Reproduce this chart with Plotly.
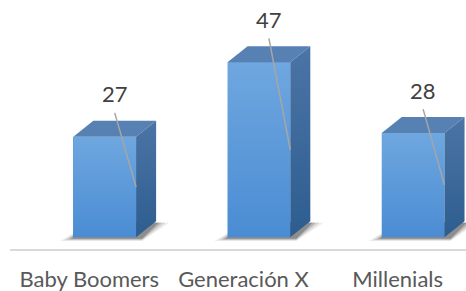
import plotly.graph_objects as go

categories = ["Baby Boomers", "Generación X", "Millenials"]
values = [27, 47, 28]

# style constants
BAR_W = 0.407        # front face width (x units)
DX = 0.13            # depth offset in x units
DY = 4.3             # depth offset in y units
LABEL_DX = 0.065
LABEL_DY = 11.5
LEADER_DY = 6.4
FONT = "Lato"

fig = go.Figure()

xs = list(range(len(categories)))

# front faces (base bars)
fig.add_trace(go.Bar(x=xs, y=values, width=BAR_W, marker=dict(color="#5b9bd5", line=dict(width=0)),
                     hoverinfo="skip", showlegend=False))

# soft shadows on the floor
for i, v in zip(xs, values):
    xl, xr = i - BAR_W / 2, i + BAR_W / 2
    for ex, op in [(0.085, 0.08), (0.06, 0.12), (0.035, 0.18), (0.015, 0.25)]:
        bot = -0.25 - ex * 9
        px = [xl - ex, xr + DX * 0.3, xr + DX + ex, xl + DX, xl - ex]
        py = [bot, bot, DY - 0.4, DY, bot]
        fig.add_trace(go.Scatter(x=px, y=py, fill="toself", mode="none",
                                 fillcolor=f"rgba(30,30,30,{op})",
                                 hoverinfo="skip", showlegend=False))

for i, v in zip(xs, values):
    xl, xr = i - BAR_W / 2, i + BAR_W / 2
    # front face with gradient
    fig.add_trace(go.Scatter(x=[xl, xr, xr, xl, xl], y=[0, 0, v, v, 0], fill="toself", mode="none",
                             fillgradient=dict(type="vertical", start=0, stop=v,
                                               colorscale=[[0, "#4a8cd3"], [1, "#6fa7df"]]),
                             hoverinfo="skip", showlegend=False))
    # top face
    fig.add_trace(go.Scatter(x=[xl, xr, xr + DX, xl + DX, xl], y=[v, v, v + DY, v + DY, v],
                             fill="toself", mode="none", fillcolor="#5781b3",
                             hoverinfo="skip", showlegend=False))
    # side face
    fig.add_trace(go.Scatter(x=[xr, xr + DX, xr + DX, xr, xr], y=[0, DY, v + DY, v, 0],
                             fill="toself", mode="none",
                             fillgradient=dict(type="vertical", start=0, stop=v + DY,
                                               colorscale=[[0, "#2d5d8f"], [1, "#4c74a6"]]),
                             hoverinfo="skip", showlegend=False))
    # leader line
    fig.add_trace(go.Scatter(x=[i + LABEL_DX, xr], y=[v + LEADER_DY, v / 2], mode="lines",
                             line=dict(color="#a6a6a6", width=1.5),
                             hoverinfo="skip", showlegend=False))
    fig.add_annotation(x=i + LABEL_DX, y=v + LABEL_DY, text=str(v), showarrow=False,
                       font=dict(family=FONT, size=22, color="#404040"),
                       xanchor="center", yanchor="middle")

fig.update_layout(
    width=466, height=291,
    margin=dict(l=10, r=0, t=0, b=42),
    plot_bgcolor="white", paper_bgcolor="white",
    bargap=0,
    xaxis=dict(range=[-0.614, 2.343], tickvals=[i - 0.1 for i in xs], ticktext=categories,
               showgrid=False, zeroline=False, showline=True, linecolor="#d9d9d9", linewidth=1.5,
               ticks="outside", ticklen=10, tickcolor="rgba(0,0,0,0)",
               tickfont=dict(family=FONT, size=22, color="#595959")),
    yaxis=dict(range=[-3.14, 63.7], visible=False, showgrid=False, zeroline=False),
)

fig.write_html("out.html", config={"displayModeBar": False},
               post_script="document.body.style.margin='0';")
